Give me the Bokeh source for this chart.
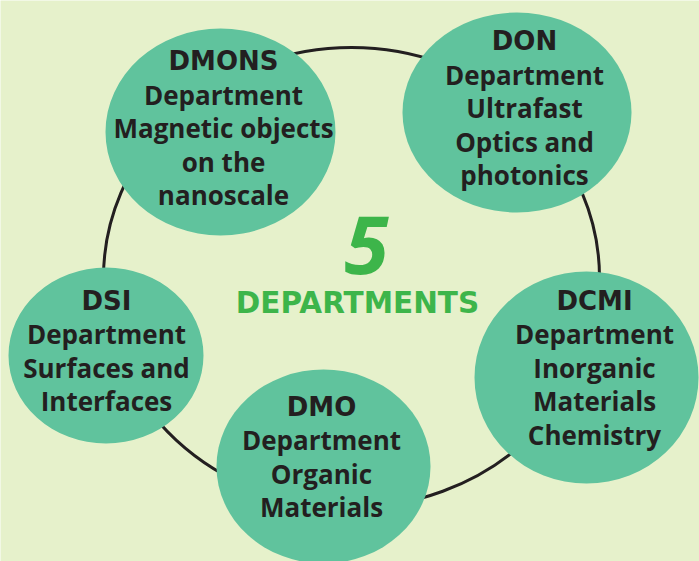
from bokeh.plotting import figure
from bokeh.models import Range1d
from bokeh.core.properties import value
from bokeh.embed import file_html
from bokeh.resources import INLINE

# ---- data ----
codes = ["DMONS", "DON", "DSI", "DCMI", "DMO"]
names = [
    ["Department", "Magnetic objects", "on the", "nanoscale"],
    ["Department", "Ultrafast", "Optics and", "photonics"],
    ["Department", "Surfaces and", "Interfaces"],
    ["Department", "Inorganic", "Materials", "Chemistry"],
    ["Department", "Organic", "Materials"],
]
center_number = "5"
center_label = "DEPARTMENTS"

# ---- layout (image pixel coords) ----
ell_cx = [220, 516.5, 105.5, 586, 323]
ell_cy = [131.5, 112, 355, 377, 466]
ell_w = [230, 229, 195, 224, 214]
ell_h = [207, 200, 176, 212, 194]
txt_cx = [223, 524, 106, 594, 321]
txt_top = [60.5, 40.8, 300, 300, 406.2]   # cap-centre of first line
line_step = 33.5

ring_cx, ring_cy, ring_w, ring_h = 351, 277, 496, 460

BG = "#e6f1cb"
FILL = "#60c39d"
DARK = "#231f20"
GREEN = "#3db54a"

W, H = 699, 561
p = figure(width=W, height=H, output_backend="svg", toolbar_location=None,
           x_range=Range1d(0, W), y_range=Range1d(-H, 0),
           min_border=0)
p.axis.visible = False
p.grid.visible = False
p.outline_line_color = None
p.background_fill_color = BG
p.border_fill_color = BG

# ring
p.ellipse(x=[ring_cx], y=[-ring_cy], width=[ring_w], height=[ring_h],
          fill_alpha=0, line_color=DARK, line_width=3)

# department bubbles
p.ellipse(x=ell_cx, y=[-v for v in ell_cy], width=ell_w, height=ell_h,
          fill_color=FILL, line_color=None)

# titles
p.text(x=txt_cx, y=[-t for t in txt_top], text=codes,
       text_font=value("DejaVu Sans"), text_font_style="bold",
       text_font_size="26px", text_color=DARK, text_align="center",
       text_baseline="middle")

# body lines
bx, by, bt = [], [], []
for i, lines in enumerate(names):
    for j, ln in enumerate(lines):
        bx.append(txt_cx[i])
        by.append(-(txt_top[i] + (j + 1) * line_step))
        bt.append(ln)
p.text(x=bx, y=by, text=bt, text_font=value("Open Sans"),
       text_font_style="bold", text_font_size="26px", text_color=DARK,
       text_align="center", text_baseline="middle")

# centre labels
p.text(x=[366], y=[-244], text=[center_number], text_font=value("Open Sans"),
       text_font_style="bold italic", text_font_size="81px", text_color=GREEN,
       text_align="center", text_baseline="middle")
p.text(x=[357], y=[-302.5], text=[center_label], text_font=value("DejaVu Sans"),
       text_font_style="bold", text_font_size="29.5px", text_color=GREEN,
       text_align="center", text_baseline="middle")

open("out.html", "w").write(file_html(p, INLINE))
